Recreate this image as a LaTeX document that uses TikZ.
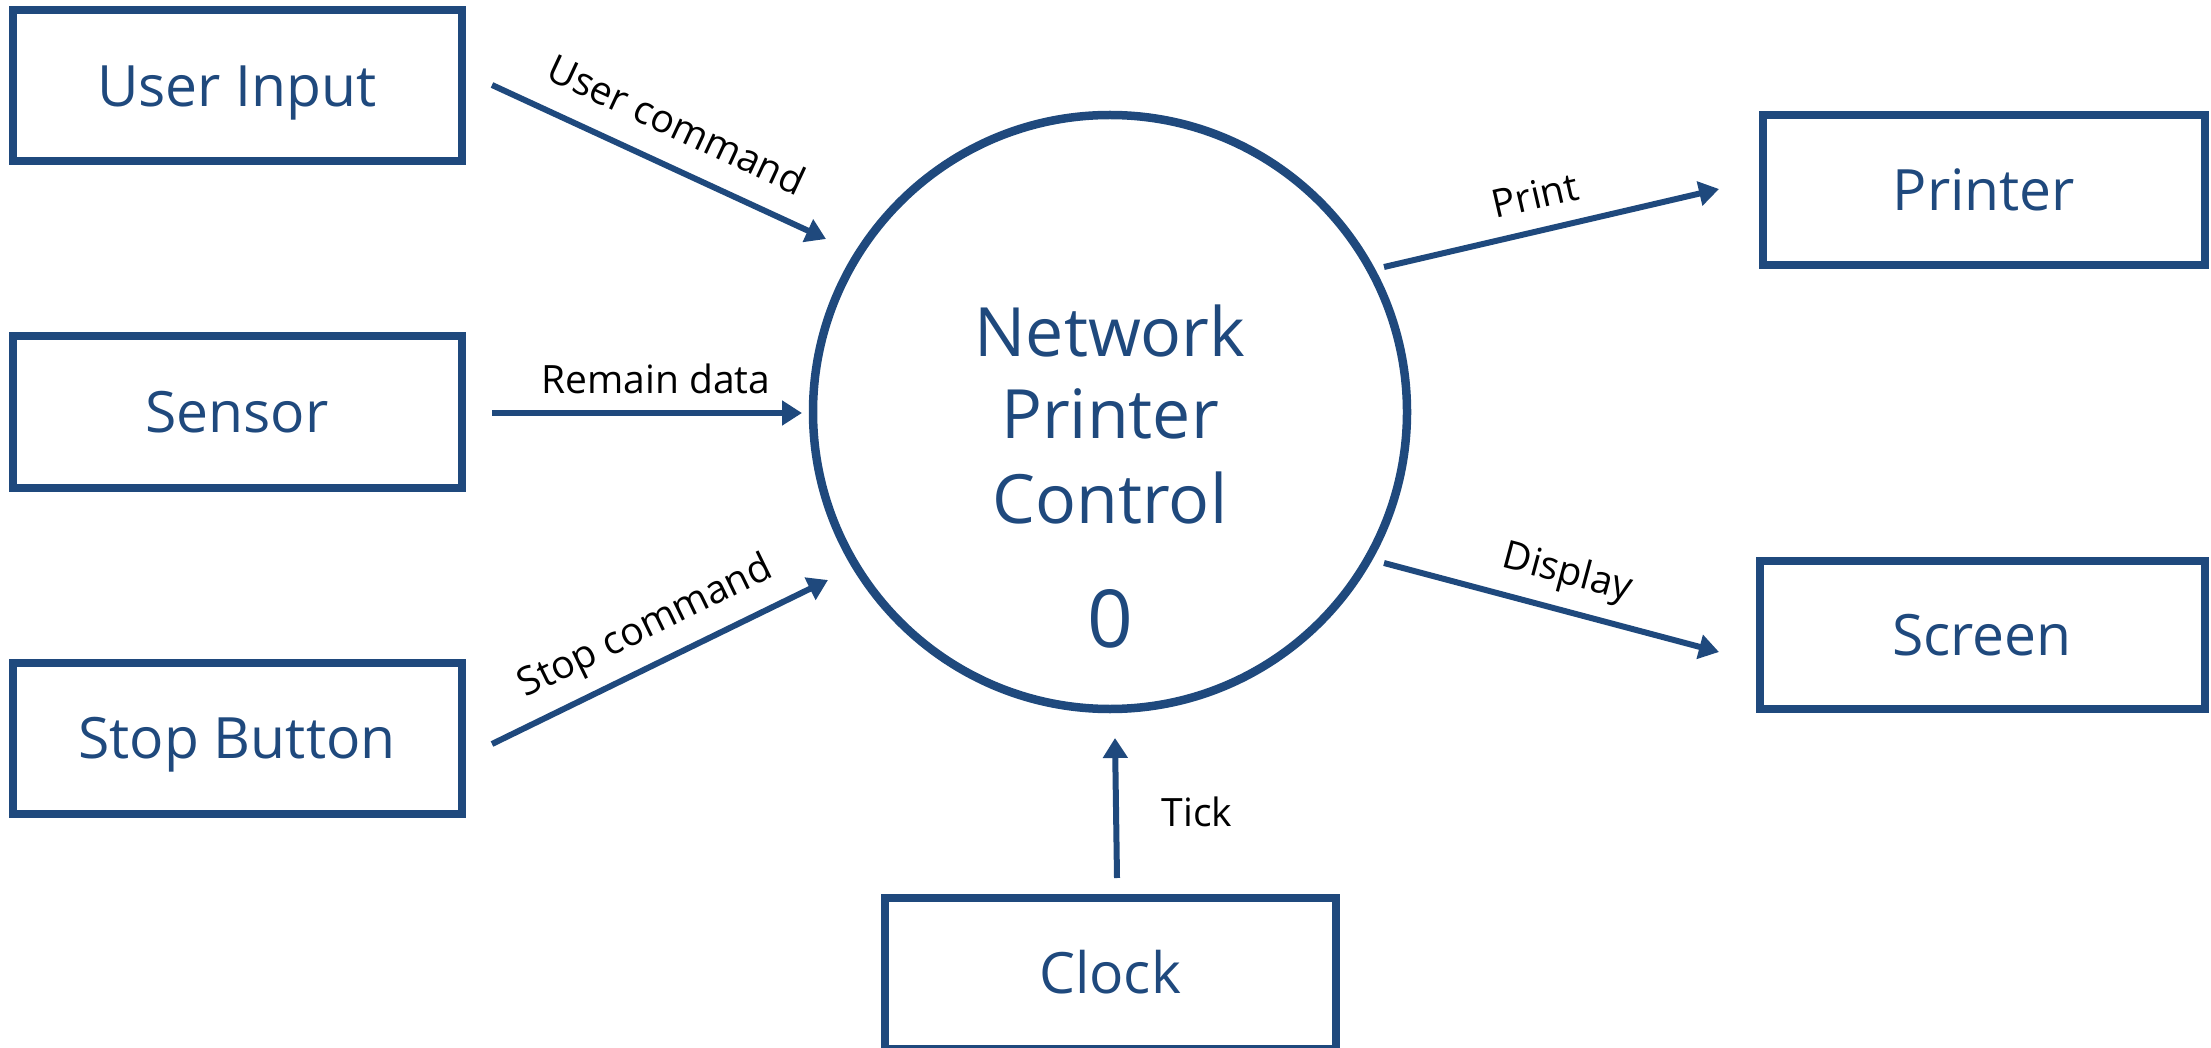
\documentclass[tikz,border=0pt]{standalone}
\usepackage{fontspec}
\setmainfont{Open Sans}
\usetikzlibrary{arrows.meta}
\definecolor{dfdblue}{RGB}{31,73,125}
\begin{document}
\begin{tikzpicture}[x=1pt,y=-1pt,
  entity/.style={draw=dfdblue, line width=8pt, rectangle, inner sep=0pt,
    minimum height=151pt, text=dfdblue,
    font=\fontsize{57}{68}\selectfont, text height=41pt, text depth=0pt},
  process/.style={draw=dfdblue, line width=8.5pt, circle, inner sep=0pt, minimum size=594pt},
  proctext/.style={text=dfdblue, font=\fontsize{68}{82}\selectfont, anchor=base, inner sep=0pt},
  flow/.style={draw=dfdblue, line width=6pt, -{Triangle[length=20pt,width=24pt]}},
  flowlabel/.style={text=black, font=\fontsize{39}{47}\selectfont, inner sep=0pt}
]
\useasboundingbox (0,0) rectangle (2211,1048);

% entities
\node[entity, minimum width=449pt] (ui) at (237,86) {User Input};
\node[entity, minimum width=449pt] (sensor) at (237,412) {Sensor};
\node[entity, minimum width=449pt] (stop) at (237,738) {Stop Button};
\node[entity, minimum width=442pt, minimum height=150pt] (printer) at (1984,190) {Printer};
\node[entity, minimum width=445pt, minimum height=148pt] (screen) at (1982,635) {Screen};
\node[entity, minimum width=451pt] (clock) at (1110,973) {Clock};

% process
\node[process] (npc) at (1110,412) {};
\node[proctext] (t1) at (1110,357) {Network};
\node[proctext] (t2) at (1110,438) {Printer};
\node[proctext] (t3) at (1110,523) {Control};
\node[proctext, font=\fontsize{80}{96}\selectfont] (t4) at (1110,647) {0};

% connector ends
\coordinate (uc1) at (492,85);   \coordinate (uc2) at (826,239);
\coordinate (rd1) at (492,413);  \coordinate (rd2) at (802,413);
\coordinate (sc1) at (492,744);  \coordinate (sc2) at (828,580);
\coordinate (pr1) at (1384,267); \coordinate (pr2) at (1719,189);
\coordinate (dp1) at (1384,563); \coordinate (dp2) at (1719,652);
\coordinate (tk1) at (1117,878); \coordinate (tk2) at (1115,738);

\draw[flow] (uc1) -- (uc2);
\draw[flow] (rd1) -- (rd2);
\draw[flow] (sc1) -- (sc2);
\draw[flow] (pr1) -- (pr2);
\draw[flow] (dp1) -- (dp2);
\draw[flow] (tk1) -- (tk2);

% labels
\node[flowlabel, rotate=-25] (luc) at (677,124) {User command};
\node[flowlabel] (lrd) at (656,379) {Remain data};
\node[flowlabel, rotate=26] (lsc) at (646,628) {Stop command};
\node[flowlabel, rotate=13] (lpr) at (1535,195) {Print};
\node[flowlabel, rotate=-15] (ldp) at (1567,574) {Display};
\node[flowlabel] (ltk) at (1197,812) {Tick};
\end{tikzpicture}
\end{document}
